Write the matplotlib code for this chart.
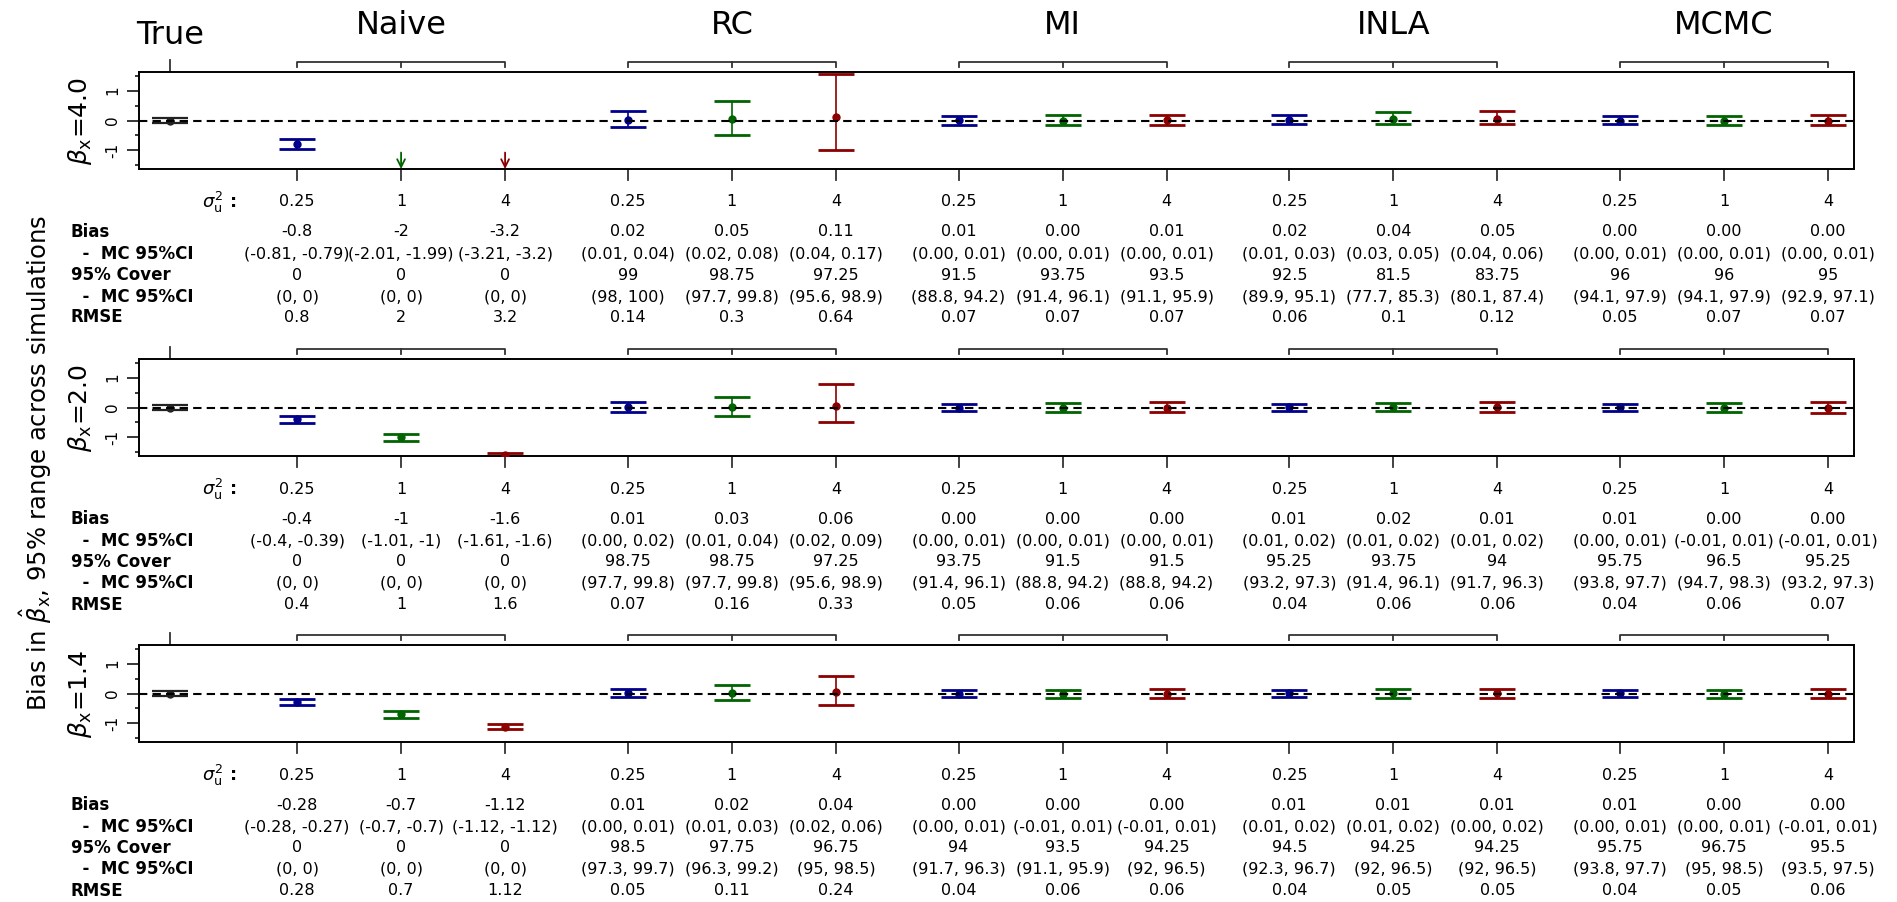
import matplotlib
matplotlib.use("Agg")
import matplotlib.pyplot as plt
import matplotlib.transforms as mtransforms

# ---------------- data ----------------
methods = ["Naive", "RC", "MI", "INLA", "MCMC"]
sigma_u2 = ["0.25", "1", "4"]
beta_x = ["4.0", "2.0", "1.4"]
row_names = ["Bias", "  -  MC 95%CI", "95% Cover", "  -  MC 95%CI", "RMSE"]

# 'True' reference interval per panel
true_lo = [-0.08, -0.08, -0.09]
true_hi = [0.08, 0.08, 0.09]

# 95% range across simulations (lower / upper), 15 values per panel (5 methods x 3 sigma)
range_lo = [
    [-0.95, -2.10, -3.30, -0.23, -0.47, -0.97, -0.14, -0.14, -0.14, -0.11, -0.11, -0.12, -0.11, -0.14, -0.14],
    [-0.52, -1.12, -1.70, -0.16, -0.27, -0.48, -0.13, -0.16, -0.16, -0.12, -0.12, -0.15, -0.13, -0.15, -0.17],
    [-0.40, -0.81, -1.20, -0.13, -0.21, -0.40, -0.13, -0.14, -0.14, -0.11, -0.14, -0.14, -0.11, -0.14, -0.15],
]
range_hi = [
    [-0.63, -1.90, -3.10, 0.32, 0.66, 1.55, 0.16, 0.18, 0.17, 0.17, 0.28, 0.33, 0.16, 0.16, 0.18],
    [-0.29, -0.89, -1.53, 0.18, 0.36, 0.80, 0.13, 0.16, 0.17, 0.13, 0.16, 0.18, 0.13, 0.15, 0.17],
    [-0.18, -0.59, -1.03, 0.14, 0.28, 0.60, 0.13, 0.12, 0.14, 0.13, 0.14, 0.14, 0.13, 0.13, 0.14],
]

bias_txt = [
    ["-0.8", "-2", "-3.2", "0.02", "0.05", "0.11", "0.01", "0.00", "0.01", "0.02", "0.04", "0.05", "0.00", "0.00", "0.00"],
    ["-0.4", "-1", "-1.6", "0.01", "0.03", "0.06", "0.00", "0.00", "0.00", "0.01", "0.02", "0.01", "0.01", "0.00", "0.00"],
    ["-0.28", "-0.7", "-1.12", "0.01", "0.02", "0.04", "0.00", "0.00", "0.00", "0.01", "0.01", "0.01", "0.01", "0.00", "0.00"],
]
bias_ci = [
    ["(-0.81, -0.79)", "(-2.01, -1.99)", "(-3.21, -3.2)", "(0.01, 0.04)", "(0.02, 0.08)", "(0.04, 0.17)",
     "(0.00, 0.01)", "(0.00, 0.01)", "(0.00, 0.01)", "(0.01, 0.03)", "(0.03, 0.05)", "(0.04, 0.06)",
     "(0.00, 0.01)", "(0.00, 0.01)", "(0.00, 0.01)"],
    ["(-0.4, -0.39)", "(-1.01, -1)", "(-1.61, -1.6)", "(0.00, 0.02)", "(0.01, 0.04)", "(0.02, 0.09)",
     "(0.00, 0.01)", "(0.00, 0.01)", "(0.00, 0.01)", "(0.01, 0.02)", "(0.01, 0.02)", "(0.01, 0.02)",
     "(0.00, 0.01)", "(-0.01, 0.01)", "(-0.01, 0.01)"],
    ["(-0.28, -0.27)", "(-0.7, -0.7)", "(-1.12, -1.12)", "(0.00, 0.01)", "(0.01, 0.03)", "(0.02, 0.06)",
     "(0.00, 0.01)", "(-0.01, 0.01)", "(-0.01, 0.01)", "(0.01, 0.02)", "(0.01, 0.02)", "(0.00, 0.02)",
     "(0.00, 0.01)", "(0.00, 0.01)", "(-0.01, 0.01)"],
]
cover_txt = [
    ["0", "0", "0", "99", "98.75", "97.25", "91.5", "93.75", "93.5", "92.5", "81.5", "83.75", "96", "96", "95"],
    ["0", "0", "0", "98.75", "98.75", "97.25", "93.75", "91.5", "91.5", "95.25", "93.75", "94", "95.75", "96.5", "95.25"],
    ["0", "0", "0", "98.5", "97.75", "96.75", "94", "93.5", "94.25", "94.5", "94.25", "94.25", "95.75", "96.75", "95.5"],
]
cover_ci = [
    ["(0, 0)", "(0, 0)", "(0, 0)", "(98, 100)", "(97.7, 99.8)", "(95.6, 98.9)", "(88.8, 94.2)", "(91.4, 96.1)",
     "(91.1, 95.9)", "(89.9, 95.1)", "(77.7, 85.3)", "(80.1, 87.4)", "(94.1, 97.9)", "(94.1, 97.9)", "(92.9, 97.1)"],
    ["(0, 0)", "(0, 0)", "(0, 0)", "(97.7, 99.8)", "(97.7, 99.8)", "(95.6, 98.9)", "(91.4, 96.1)", "(88.8, 94.2)",
     "(88.8, 94.2)", "(93.2, 97.3)", "(91.4, 96.1)", "(91.7, 96.3)", "(93.8, 97.7)", "(94.7, 98.3)", "(93.2, 97.3)"],
    ["(0, 0)", "(0, 0)", "(0, 0)", "(97.3, 99.7)", "(96.3, 99.2)", "(95, 98.5)", "(91.7, 96.3)", "(91.1, 95.9)",
     "(92, 96.5)", "(92.3, 96.7)", "(92, 96.5)", "(92, 96.5)", "(93.8, 97.7)", "(95, 98.5)", "(93.5, 97.5)"],
]
rmse_txt = [
    ["0.8", "2", "3.2", "0.14", "0.3", "0.64", "0.07", "0.07", "0.07", "0.06", "0.1", "0.12", "0.05", "0.07", "0.07"],
    ["0.4", "1", "1.6", "0.07", "0.16", "0.33", "0.05", "0.06", "0.06", "0.04", "0.06", "0.06", "0.04", "0.06", "0.07"],
    ["0.28", "0.7", "1.12", "0.05", "0.11", "0.24", "0.04", "0.06", "0.06", "0.04", "0.05", "0.05", "0.04", "0.05", "0.06"],
]

cols = ["darkblue", "darkgreen", "darkred"]

# ---------------- layout ----------------
W, H = 1897, 902
fig = plt.figure(figsize=(W / 100, H / 100), dpi=100)

ax_h = 97.0                     # panel height in px
panel_bot = [169, 456, 742]     # panel bottom (px from top)
row_off = [63, 85, 106, 127.5, 148.5]
YL = 1.62


def xpos(g, j):
    return 1.22 + 3.18 * g + j


def bar(ax, x, m, lo, hi, c, lw=2):
    ax.errorbar(x, m, yerr=[[m - lo], [hi - m]], fmt="o", color=c, ms=5,
                capsize=13, capthick=lw, elinewidth=1.2, zorder=3)


for p in range(3):
    top_frac = (H - panel_bot[p]) / H
    ax = fig.add_axes([139 / W, top_frac, 1715 / W, ax_h / H])
    ax.set_xlim(-0.3, 16.19)
    ax.set_ylim(-YL, YL)
    ax.axhline(0, color="black", lw=1.5, ls=(0, (4, 2.5)), zorder=4)
    for s in ax.spines.values():
        s.set_linewidth(1.4)

    bar(ax, 0, 0.0, true_lo[p], true_hi[p], "#222222", lw=1.6)
    tr = ax.get_xaxis_transform()
    xs = []
    for g in range(5):
        gx = [xpos(g, j) for j in range(3)]
        xs += gx
        for j in range(3):
            k = 3 * g + j
            m = float(bias_txt[p][k])
            if m < -YL:
                ax.annotate("", xy=(gx[j], -YL), xytext=(gx[j], -1.07),
                            arrowprops=dict(arrowstyle="->", color=cols[j], lw=1.3,
                                            mutation_scale=14, shrinkA=0, shrinkB=0))
            else:
                bar(ax, gx[j], m, range_lo[p][k], range_hi[p][k], cols[j])
        # bracket above each method group
        ax.plot([gx[0], gx[0], gx[2], gx[2]], [1 + 5 / ax_h, 1 + 10 / ax_h, 1 + 10 / ax_h, 1 + 5 / ax_h],
                transform=tr, clip_on=False, color="#333333", lw=1.3)
        ax.plot([gx[1], gx[1]], [1 + 10 / ax_h, 1 + 5 / ax_h], transform=tr, clip_on=False,
                color="#333333", lw=1.3)
        if p == 0:
            fig.text(0, 0, methods[g], fontsize=23, ha="center", va="center",
                     transform=mtransforms.blended_transform_factory(ax.transData, fig.transFigure),
                     position=(gx[1], 1 - 25 / H))
    ax.plot([0, 0], [1 + 1 / ax_h, 1 + 12 / ax_h], transform=tr, clip_on=False, color="#333333", lw=1.3)
    if p == 0:
        fig.text(0, 0, "True", fontsize=23, ha="center", va="center",
                 transform=mtransforms.blended_transform_factory(ax.transData, fig.transFigure),
                 position=(0, 1 - 35 / H))

    # ticks below the panel
    for x in xs:
        ax.plot([x, x], [-1 / ax_h, -11 / ax_h], transform=tr, clip_on=False, color="#333333", lw=1.3)

    ax.set_xticks([])
    ax.set_yticks([-1, 0, 1])
    ax.set_yticks([-1.5, -0.5, 0.5, 1.5], minor=True)
    ax.set_yticklabels(["-1", "0", "1"], rotation=90, va="center")
    ax.tick_params(axis="y", which="major", length=8.5, width=1.1, pad=5, labelsize=11)
    ax.tick_params(axis="y", which="minor", length=3, width=1.1)

    fig.text(80 / W, 1 - (panel_bot[p] - ax_h / 2) / H, r"$\beta_{\mathrm{x}}$=" + beta_x[p],
             rotation=90, fontsize=18, ha="center", va="center")

    # sigma row
    fig.text(236 / W, 1 - (panel_bot[p] + 33) / H, r"$\sigma_{\mathrm{u}}^{2}$ :", fontsize=13,
             fontweight="bold", ha="right", va="center")
    for x, s in zip(xs, sigma_u2 * 5):
        ax.text(x, -33 / ax_h, s, transform=tr, ha="center", va="center", fontsize=11.5)

    rows = [bias_txt[p], bias_ci[p], cover_txt[p], cover_ci[p], rmse_txt[p]]
    for off, name, vals in zip(row_off, row_names, rows):
        fig.text(71 / W, 1 - (panel_bot[p] + off) / H, name, fontsize=12, fontweight="bold",
                 ha="left", va="center")
        for x, s in zip(xs, vals):
            ax.text(x, -off / ax_h, s, transform=tr, ha="center", va="center", fontsize=11.5)

fig.text(36 / W, 1 - 463 / H, r"Bias in $\hat{\beta}_{\mathrm{x}}$, 95% range across simulations",
         rotation=90, fontsize=17.5, ha="center", va="center")

fig.savefig("out.png", dpi=100)
